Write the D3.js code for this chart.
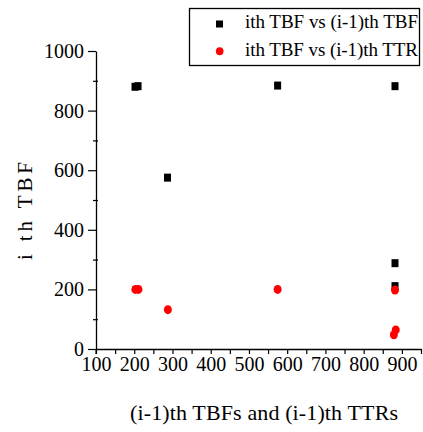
<!DOCTYPE html>
<html>
<head>
<meta charset="utf-8">
<script src="https://cdn.jsdelivr.net/npm/d3@7"></script>
<style>
  html, body { margin: 0; padding: 0; background: #fff; }
  svg { display: block; }
  text { font-family: "Liberation Serif", "Times New Roman", serif; fill: #000; }
</style>
</head>
<body>
<svg id="chart" width="423" height="432"></svg>
<script>
// Series 1: ith TBF against the (i-1)th TBF
const tbfPrev = [202, 210, 287, 575, 882, 882, 882];
const tbfCurr = [880, 882, 575, 884, 882, 288, 211];

// Series 2: ith TBF against the (i-1)th TTR
const ttrPrev = [203, 211, 288, 575, 882, 884, 879];
const ttrCurr = [200, 200, 132, 200, 198, 64, 48];

const xMajorTicks = [100, 200, 300, 400, 500, 600, 700, 800, 900];
const yMajorTicks = [0, 200, 400, 600, 800, 1000];

const seriesNames = ["ith TBF vs (i-1)th TBF", "ith TBF vs (i-1)th TTR"];
const xTitle = "(i-1)th TBFs and (i-1)th TTRs";
const yTitle = "i th TBF";

const svg = d3.select("#chart");
const FONT = "'Liberation Serif', 'Times New Roman', serif";

const x = d3.scaleLinear().domain([100, 950]).range([96, 421]);
const y = d3.scaleLinear().domain([0, 1000]).range([349, 51]);

// X axis: ticks every 50, labels every 100
const xAxis = d3.axisBottom(x)
  .tickValues(d3.range(100, 951, 50))
  .tickFormat(d => xMajorTicks.includes(d) ? d : "")
  .tickSize(5)
  .tickSizeOuter(0)
  .tickPadding(3);

const gx = svg.append("g").attr("transform", `translate(0,${y(0)})`).call(xAxis);
gx.attr("font-family", FONT);
gx.select(".domain").attr("stroke", "#000").attr("stroke-width", 1.3);
gx.selectAll(".tick line").attr("stroke", "#000").attr("stroke-width", 1.2);
gx.selectAll(".tick text").attr("font-size", 20).attr("fill", "#000");

// Y axis: long ticks at labelled values, short ones between
const yAxis = d3.axisLeft(y)
  .tickValues(d3.range(0, 1001, 100))
  .tickFormat(d => yMajorTicks.includes(d) ? d : "")
  .tickSize(8)
  .tickSizeOuter(0)
  .tickPadding(4);

const gy = svg.append("g").attr("transform", `translate(${x(100)},0)`).call(yAxis);
gy.attr("font-family", FONT);
gy.select(".domain").attr("stroke", "#000").attr("stroke-width", 1.3);
gy.selectAll(".tick line")
  .attr("stroke", "#000").attr("stroke-width", 1.2)
  .attr("x1", d => yMajorTicks.includes(d) ? 0 : 2)
  .attr("x2", d => yMajorTicks.includes(d) ? -8 : -3);
gy.selectAll(".tick text").attr("font-size", 20).attr("fill", "#000");

// Y axis extends a little below the x axis
svg.append("line")
  .attr("x1", x(100)).attr("x2", x(100))
  .attr("y1", y(0)).attr("y2", y(0) + 5)
  .attr("stroke", "#000").attr("stroke-width", 1.2);

// Axis titles
svg.append("text")
  .attr("x", 264)
  .attr("y", 420)
  .attr("text-anchor", "middle")
  .attr("font-size", 22)
  .attr("textLength", 268)
  .attr("lengthAdjust", "spacing")
  .text(xTitle);

svg.append("text")
  .attr("transform", `translate(32,${211}) rotate(-90)`)
  .attr("text-anchor", "middle")
  .attr("font-size", 21)
  .attr("textLength", 98)
  .attr("lengthAdjust", "spacing")
  .text(yTitle);

// Markers
const pts1 = tbfPrev.map((v, i) => ({ x: v, y: tbfCurr[i] }));
const pts2 = ttrPrev.map((v, i) => ({ x: v, y: ttrCurr[i] }));

svg.append("g").selectAll("rect").data(pts1).join("rect")
  .attr("x", d => x(d.x) - 3.5)
  .attr("y", d => y(d.y) - 4)
  .attr("width", 7)
  .attr("height", 8)
  .attr("fill", "#000");

svg.append("g").selectAll("ellipse").data(pts2).join("ellipse")
  .attr("cx", d => x(d.x))
  .attr("cy", d => y(d.y))
  .attr("rx", 4)
  .attr("ry", 4.5)
  .attr("fill", "#ff0000");

// Legend
const lg = svg.append("g");
lg.append("rect")
  .attr("x", 189.5).attr("y", 8.5)
  .attr("width", 230).attr("height", 57)
  .attr("fill", "#fff").attr("stroke", "#000").attr("stroke-width", 1.3);
lg.append("rect").attr("x", 216).attr("y", 20.5).attr("width", 7).attr("height", 7).attr("fill", "#000");
lg.append("ellipse").attr("cx", 219.7).attr("cy", 51.3).attr("rx", 3.8).attr("ry", 4).attr("fill", "#ff0000");
lg.selectAll("text.lab").data(seriesNames).join("text")
  .attr("class", "lab")
  .attr("x", 245)
  .attr("y", (d, i) => 28 + i * 27.5)
  .attr("font-size", 19)
  .attr("textLength", 173)
  .attr("lengthAdjust", "spacing")
  .text(d => d);
</script>
</body>
</html>
